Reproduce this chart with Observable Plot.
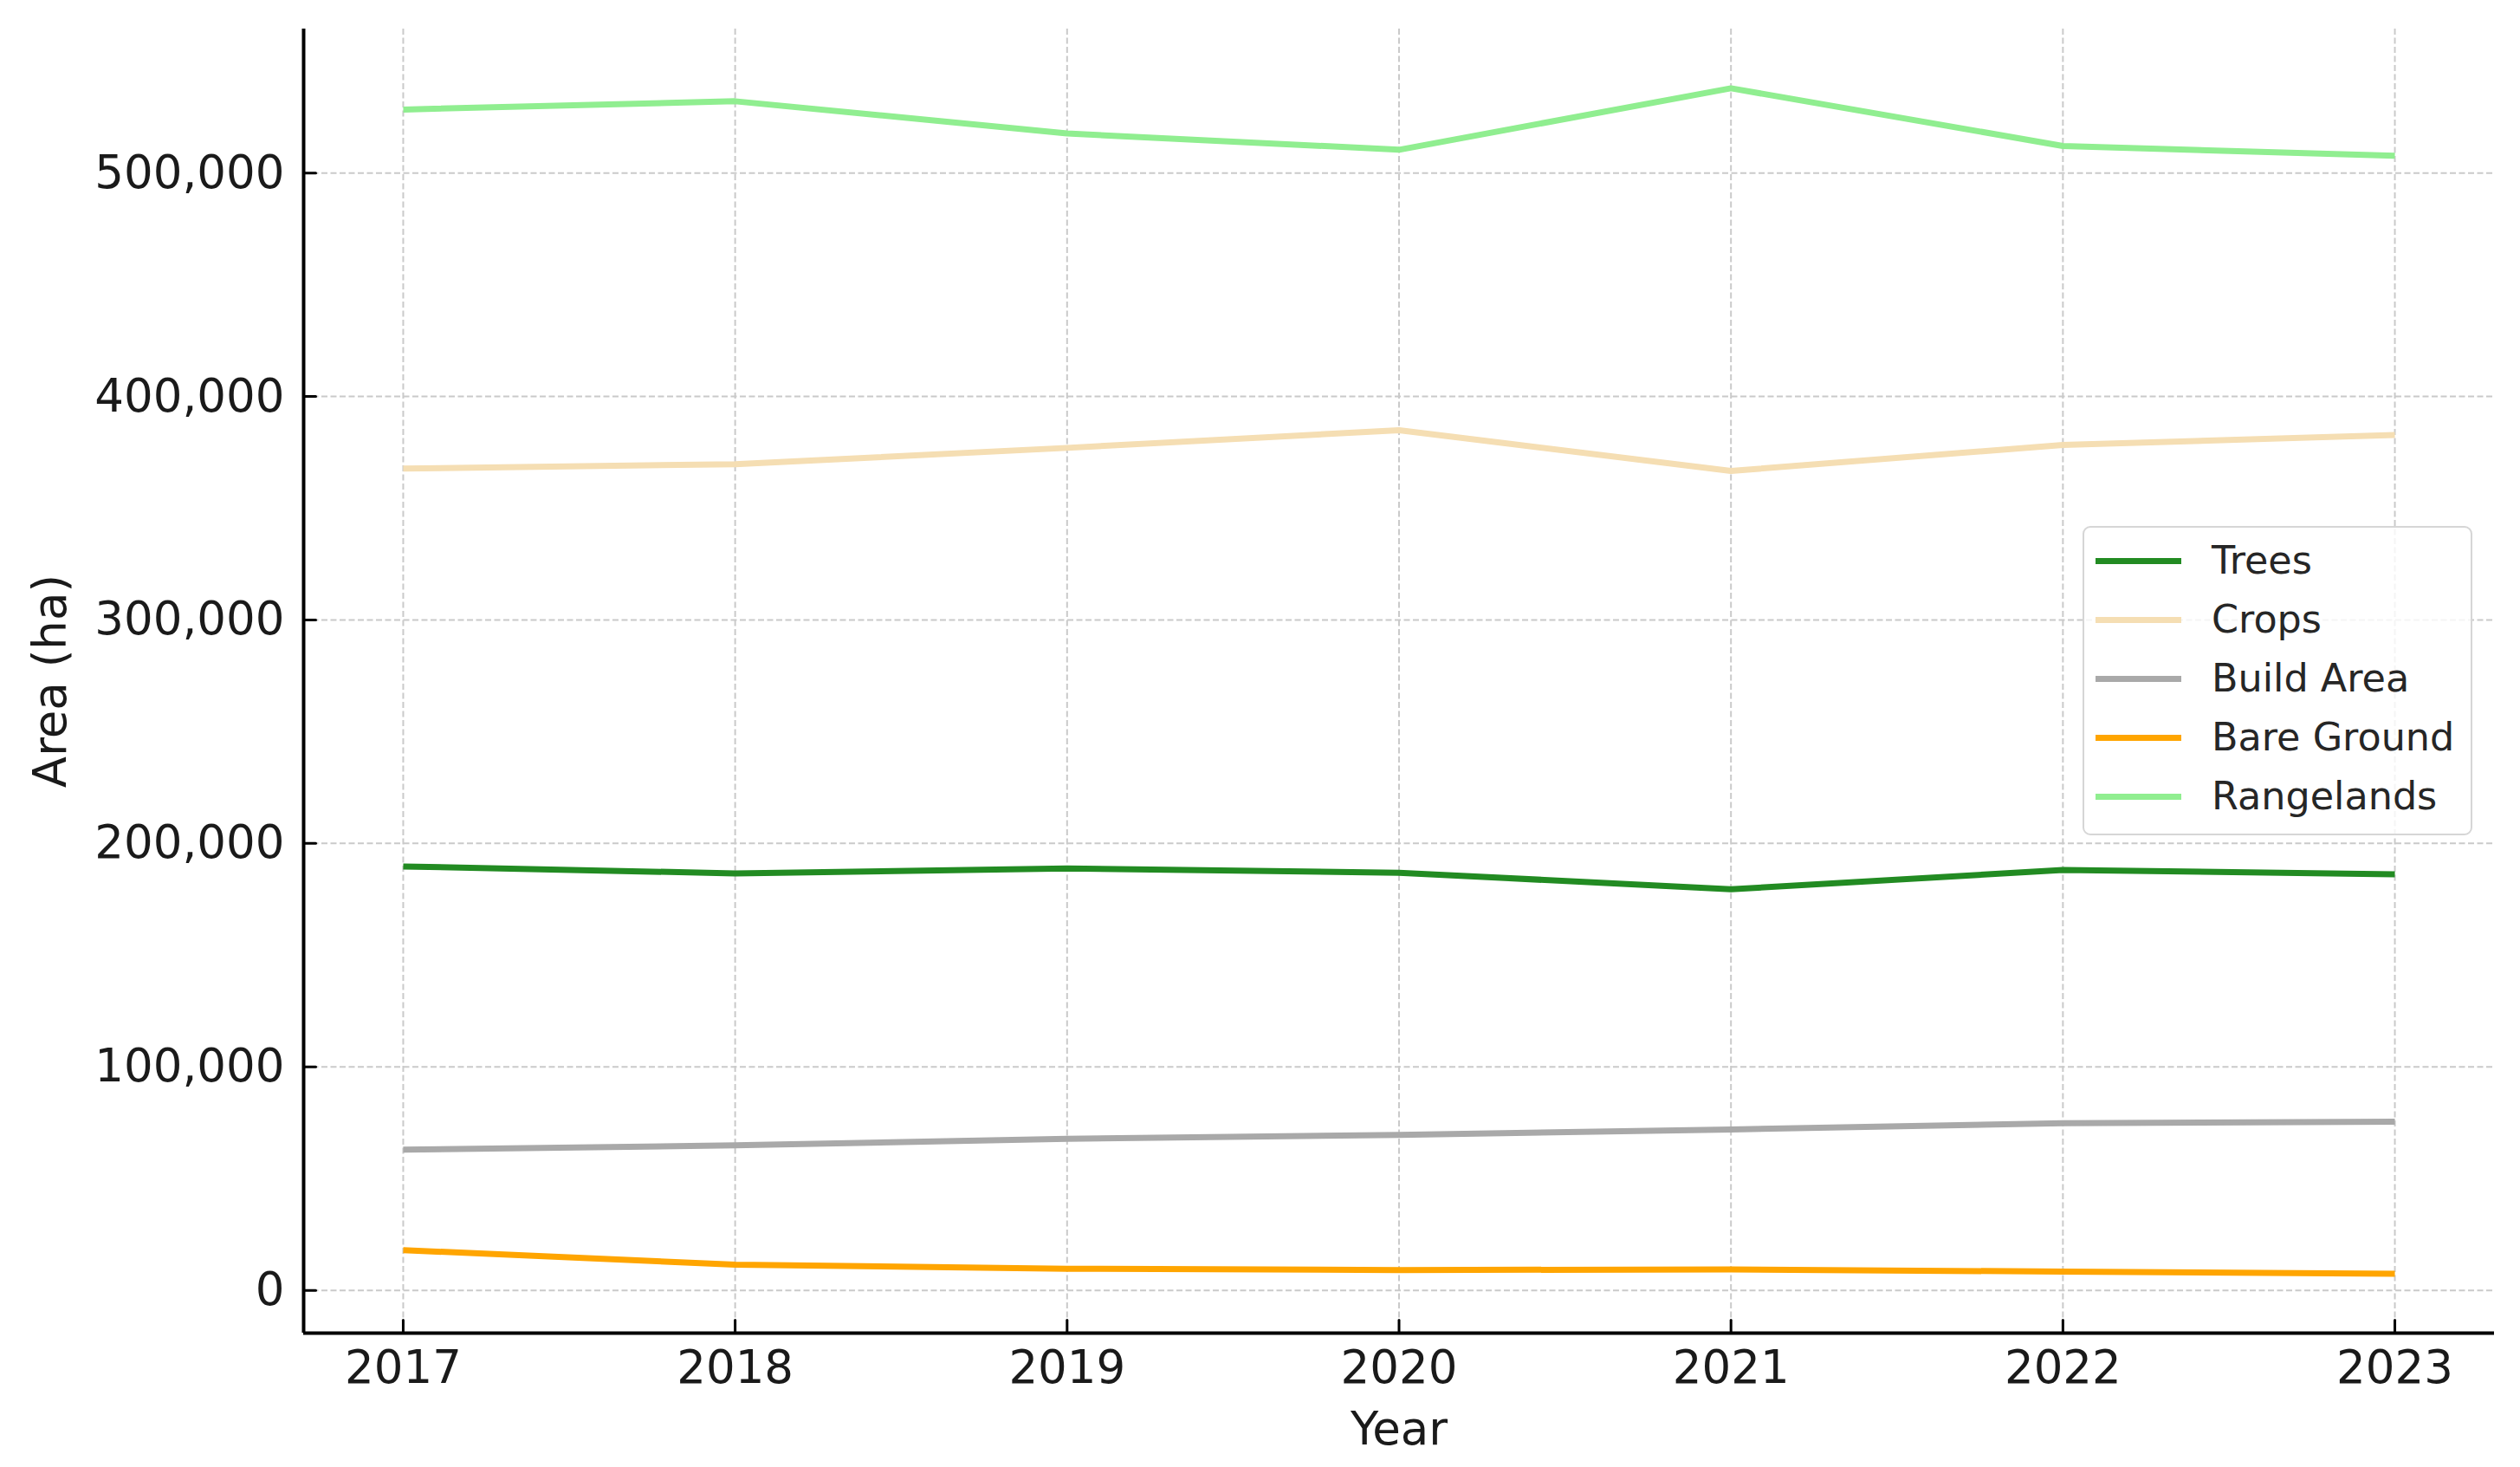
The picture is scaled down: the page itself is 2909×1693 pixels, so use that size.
<!DOCTYPE html>
<html>
<head>
<meta charset="utf-8">
<script src="https://cdn.jsdelivr.net/npm/d3@7"></script>
<script src="https://cdn.jsdelivr.net/npm/@observablehq/plot@0.6"></script>
<style>
  html, body { margin: 0; padding: 0; background: #fff; }
  #wrap { position: relative; width: 2909px; height: 1693px; font-family: "DejaVu Sans", sans-serif; }
  #legend { position: absolute; left: 2404px; top: 607px; width: 446px; height: 353px;
            border: 2.5px solid #d6d6d6; border-radius: 9px; background: rgba(255,255,255,0.8); }
  .item { position: absolute; left: 0; height: 0; }
  .swatch { position: absolute; left: 13px; width: 99px; height: 7px; top: -3.5px; }
  .lab { position: absolute; left: 147px; top: -27px; font-size: 44.5px; line-height: 54px; color: #262626; white-space: nowrap; }
</style>
</head>
<body>
<div id="wrap"><div id="chart"></div><div id="legend"></div></div>
<script>
// ---- data ----
const years = [2017, 2018, 2019, 2020, 2021, 2022, 2023];
const trees      = [189700, 186600, 188800, 186900, 179500, 188100, 186200];
const crops      = [367700, 369700, 377000, 384900, 366700, 378300, 382800];
const buildArea  = [63000, 64900, 67800, 69600, 72000, 74800, 75500];
const bareGround = [18000, 11500, 9700, 9100, 9400, 8400, 7400];
const rangelands = [528400, 532100, 517700, 510400, 537900, 512100, 507700];
const seriesNames = ["Trees", "Crops", "Build Area", "Bare Ground", "Rangelands"];
const seriesColors = ["#228B22", "#F5DEB3", "#A9A9A9", "#FFA500", "#90EE90"];
const yTicks = [0, 100000, 200000, 300000, 400000, 500000];

const seriesValues = [trees, crops, buildArea, bareGround, rangelands];
const rows = [];
seriesNames.forEach((name, i) => years.forEach((yr, j) => rows.push({series: name, year: yr, value: seriesValues[i][j]})));

// matplotlib-like 5% margins
const allVals = rows.map(d => d.value);
const vmin = d3.min(allVals), vmax = d3.max(allVals);
const yPad = (vmax - vmin) * 0.05;
const yDomain = [vmin - yPad, vmax + yPad];
const xPad = (d3.max(years) - d3.min(years)) * 0.05;
const xDomain = [d3.min(years) - xPad, d3.max(years) + xPad];

const tickShape = {draw(context, l) { context.moveTo(0, 0); context.lineTo(0, -l); }};
const font = "DejaVu Sans";
const textColor = "#1a1a1a";

const marks = [
  Plot.gridX(years, {stroke: "#cacaca", strokeOpacity: 1, strokeWidth: 2, strokeDasharray: "7,3.5"}),
  Plot.gridY(yTicks, {stroke: "#cacaca", strokeOpacity: 1, strokeWidth: 2, strokeDasharray: "7,3.5"}),
];
seriesNames.forEach((name, i) => {
  marks.push(Plot.line(rows.filter(d => d.series === name), {x: "year", y: "value", stroke: seriesColors[i], strokeWidth: 7, strokeLinejoin: "round", strokeLinecap: "butt"}));
});
marks.push(
  Plot.ruleX([xDomain[0]], {stroke: "#000", strokeWidth: 4}),
  Plot.ruleY([yDomain[0]], {stroke: "#000", strokeWidth: 4}),
  Plot.vector(yTicks, {y: d => d, frameAnchor: "left", length: 14, rotate: 90, anchor: "start", shape: tickShape, stroke: "#000", strokeWidth: 3}),
  Plot.vector(years, {x: d => d, frameAnchor: "bottom", length: 15, rotate: 0, anchor: "start", shape: tickShape, stroke: "#000", strokeWidth: 3}),
  Plot.axisY(yTicks, {tickSize: 0, tickPadding: 22, tickFormat: d3.format(","), fontSize: 53, fill: textColor, label: null}),
  Plot.axisX(years, {tickSize: 0, tickPadding: 20, tickFormat: d => String(d), fontSize: 53, fill: textColor, label: null}),
  Plot.text(["Year"], {frameAnchor: "bottom", dy: 112, fontSize: 53, fill: textColor, textAnchor: "middle", lineAnchor: "middle"}),
  Plot.text(["Area (ha)"], {frameAnchor: "left", dx: -291, rotate: -90, fontSize: 53, fill: textColor, textAnchor: "middle", lineAnchor: "middle"})
);

const chart = Plot.plot({
  width: 2909,
  height: 1693,
  marginLeft: 350,
  marginRight: 30,
  marginTop: 33,
  marginBottom: 155,
  style: {fontFamily: font, background: "#fff", overflow: "visible"},
  x: {domain: xDomain, type: "linear"},
  y: {domain: yDomain, type: "linear"},
  marks
});
document.getElementById("chart").appendChild(chart);

// legend
const legend = document.getElementById("legend");
seriesNames.forEach((name, i) => {
  const it = document.createElement("div");
  it.className = "item";
  it.style.top = (38 + i * 68) + "px";
  const sw = document.createElement("div");
  sw.className = "swatch";
  sw.style.background = seriesColors[i];
  const lb = document.createElement("div");
  lb.className = "lab";
  lb.textContent = name;
  it.appendChild(sw); it.appendChild(lb);
  legend.appendChild(it);
});
</script>
</body>
</html>
